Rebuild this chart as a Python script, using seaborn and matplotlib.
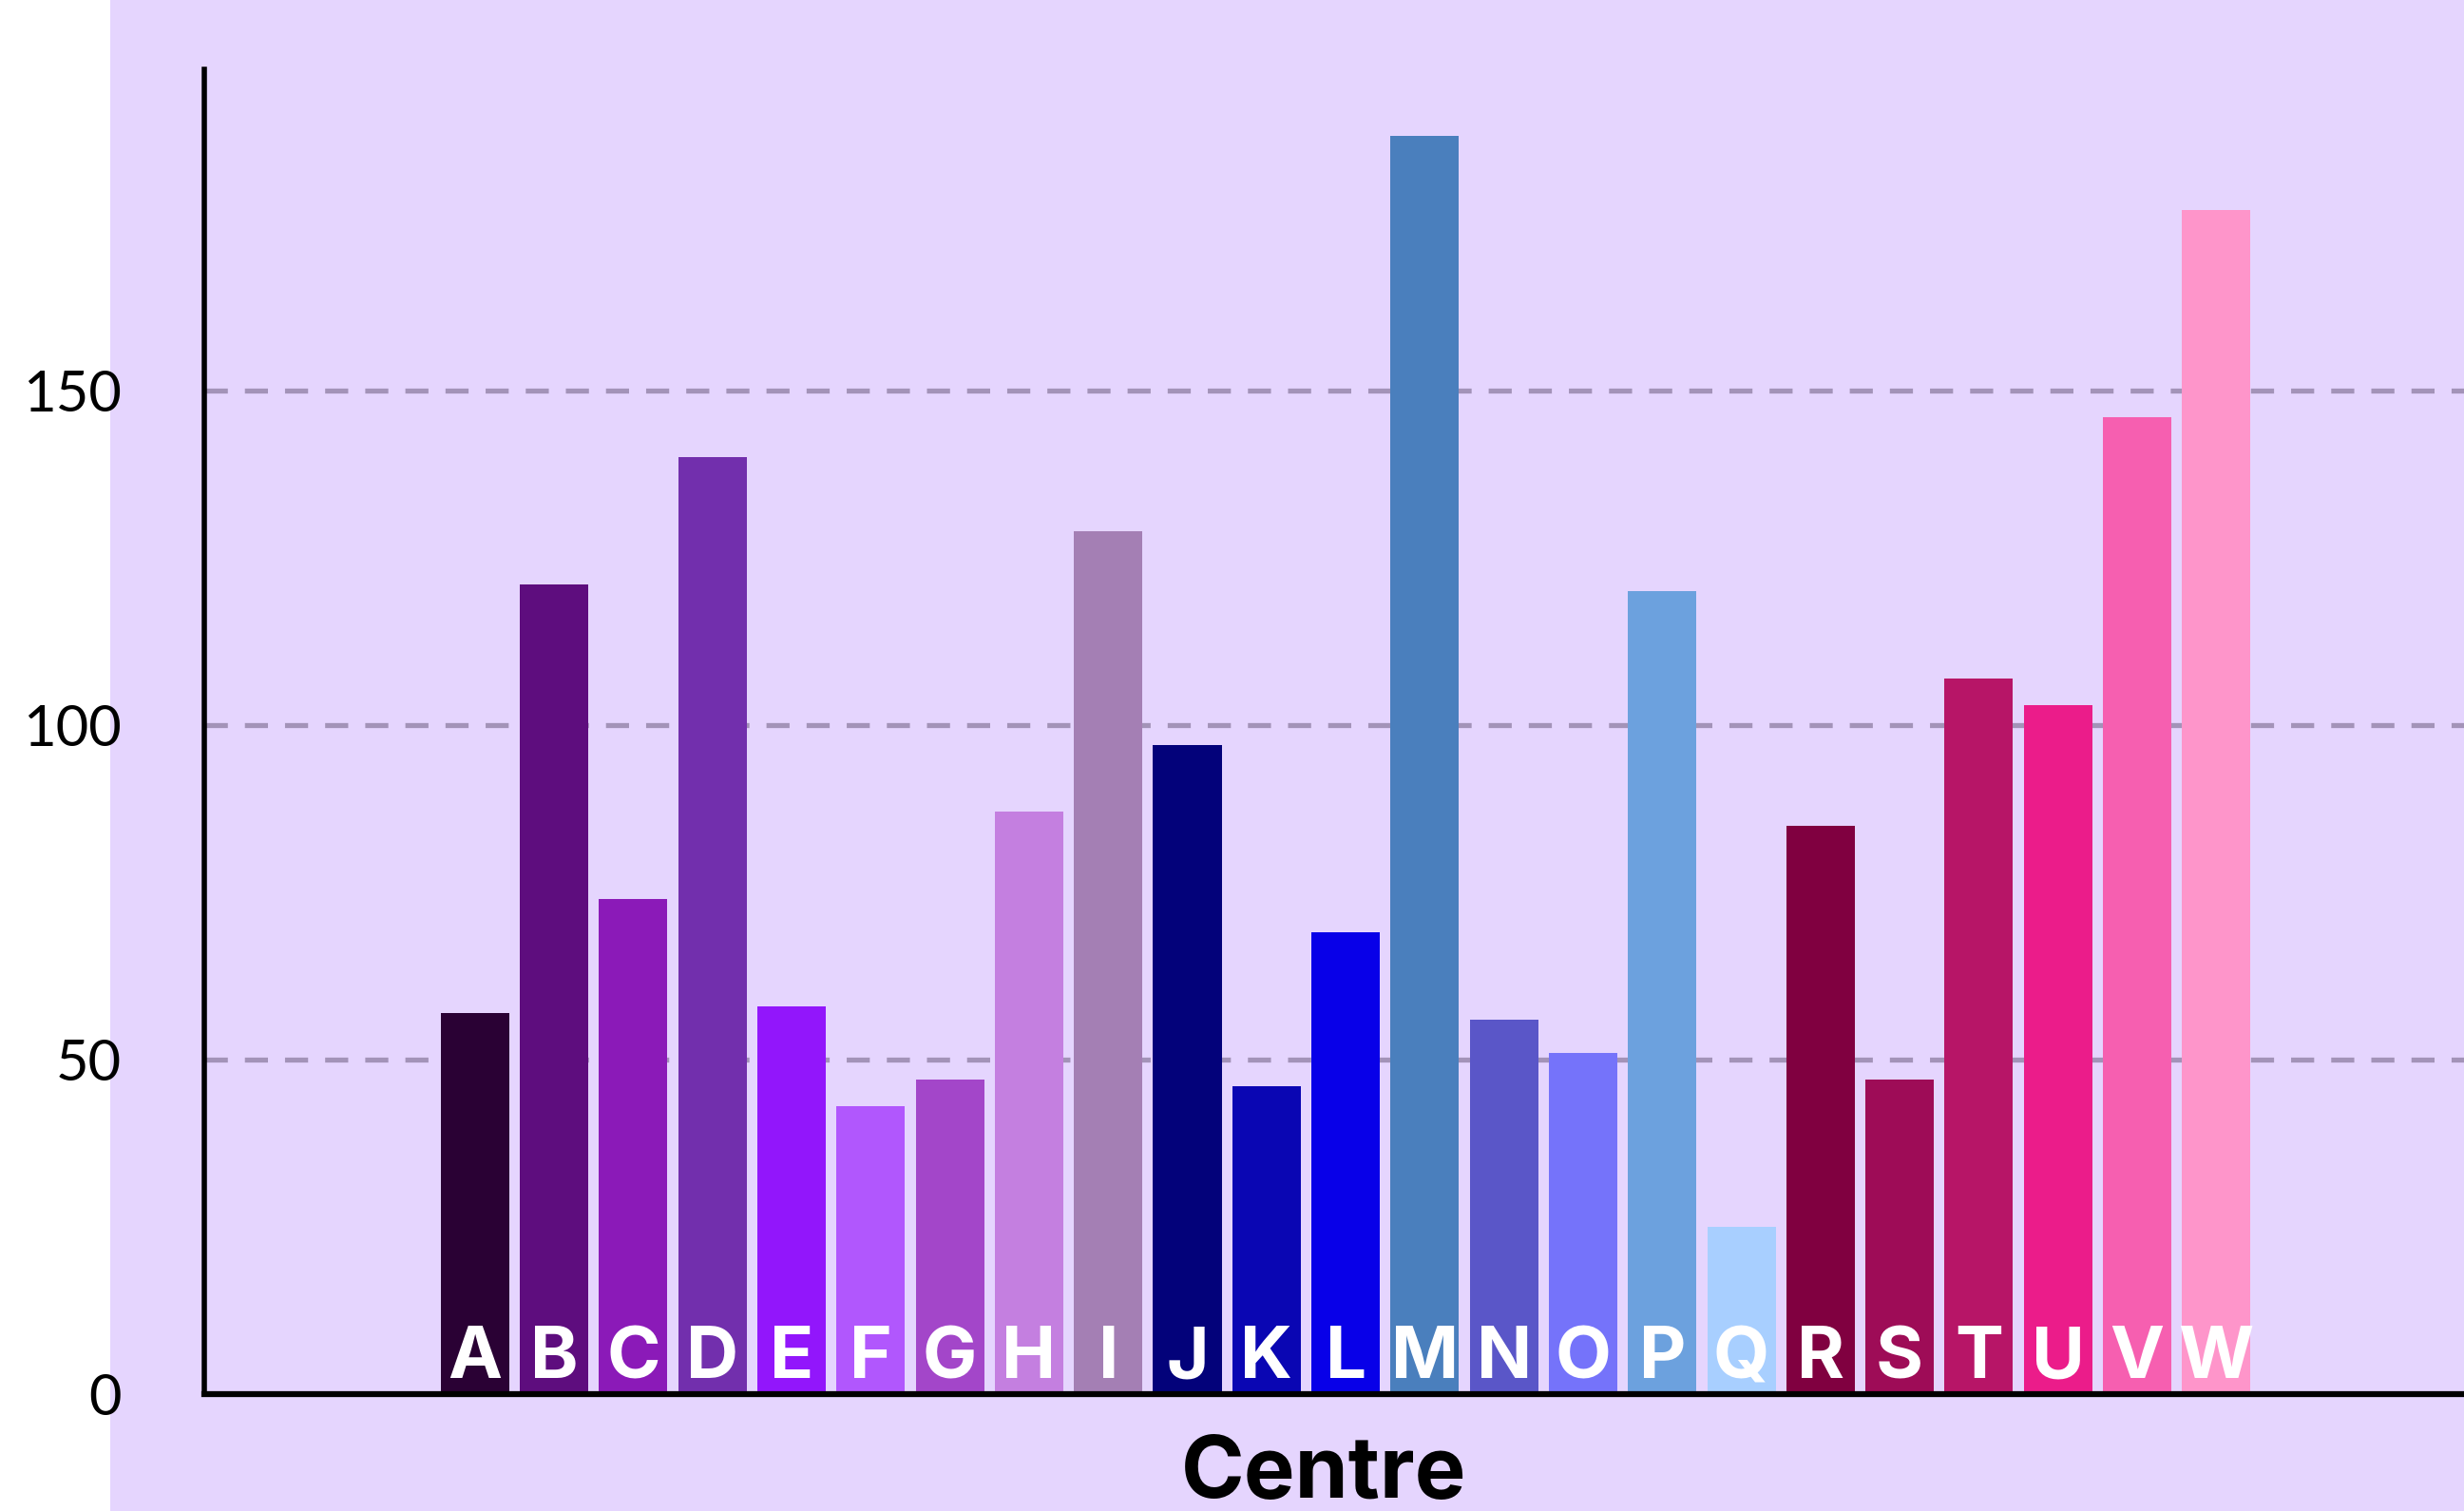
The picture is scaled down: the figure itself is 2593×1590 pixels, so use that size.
import matplotlib
matplotlib.use("Agg")
import matplotlib.pyplot as plt
from matplotlib.patches import Rectangle
import seaborn as sns
import pandas as pd

# данные
centres = list("ABCDEFGHIJKLMNOPQRSTUVW")
values = [57, 121, 74, 140, 58, 43, 47, 87, 129, 97, 46, 69, 188,
          56, 51, 120, 25, 85, 47, 107, 103, 146, 177]
colors = ["#2A0134", "#5E0D7E", "#8B1AB8", "#722FAD", "#9216FB", "#B157FD",
          "#A346C9", "#C47FE0", "#A47FB4", "#03027A", "#0A06B3", "#0800E8",
          "#4A7FBD", "#5A56C8", "#7573FA", "#6CA1DE", "#A8CFFF", "#800040",
          "#9E0C57", "#B71567", "#EB1C8A", "#F65FB0", "#FE95CA"]
y_ticks = [0, 50, 100, 150]

df = pd.DataFrame({"centre": centres, "value": values})

bg = "#E5D5FE"
W, H = 2593, 1590

sns.set_style("white")
plt.rcParams["font.family"] = ["Lato", "DejaVu Sans"]

fig = plt.figure(figsize=(W / 100, H / 100), dpi=100)
fig.patch.set_facecolor("white")
# сиреневый фон, слева белая полоса
fig.patches.append(Rectangle((116 / W, 0), 1, 1, transform=fig.transFigure,
                             facecolor=bg, edgecolor="none", zorder=-10))

ax = fig.add_axes([215 / W, 1 - 1467 / H, 1 - 215 / W, (1467 - 73) / H])
ax.set_facecolor(bg)

sns.barplot(data=df, x="centre", y="value", hue="centre", palette=colors,
            legend=False, saturation=1, width=0.865, linewidth=0, ax=ax)

ax.set_xlim(-3.42, 25.13)
ax.set_ylim(0, 198)

# сетка пунктиром
ax.set_axisbelow(True)
ax.yaxis.grid(True, color="#A393B8", linewidth=3.8, linestyle=(0, (4.6, 3.4)))
ax.xaxis.grid(False)

ax.set_yticks(y_ticks)
ax.set_yticklabels([str(t) for t in y_ticks], fontsize=43, color="black")
ax.tick_params(axis="y", length=0, pad=63)
ax.set_xticks([])

for s in ["top", "right"]:
    ax.spines[s].set_visible(False)
ax.spines["left"].set_color("black")
ax.spines["left"].set_linewidth(4)
ax.spines["bottom"].set_color("black")
ax.spines["bottom"].set_linewidth(4.5)

# буквы внутри столбцов
for i, c in enumerate(centres):
    ax.annotate(c, xy=(i, 0), xytext=(0, 12), textcoords="offset points",
                ha="center", va="baseline", color="white", fontsize=55,
                fontweight="bold", family=["Inter", "DejaVu Sans"])

ax.set_xlabel("Centre", fontsize=65, fontweight="bold", color="black",
              family=["Inter", "DejaVu Sans"], labelpad=31)
ax.xaxis.label.set_x(0.4954)
ax.set_ylabel("")

fig.savefig("out.png", dpi=100, facecolor=fig.get_facecolor())
